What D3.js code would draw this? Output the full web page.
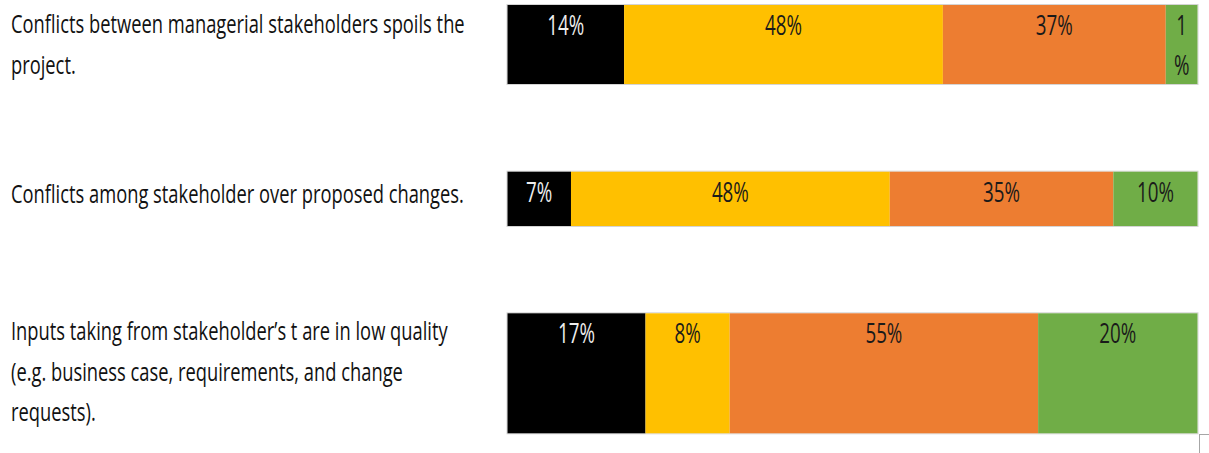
<!DOCTYPE html>
<html>
<head>
<meta charset="utf-8">
<script src="https://cdn.jsdelivr.net/npm/d3@7"></script>
<style>
  html, body { margin: 0; padding: 0; background: #ffffff; }
  svg { display: block; }
</style>
</head>
<body>
<svg id="chart" width="1209" height="453"></svg>
<script>
// ---------------- DATA ----------------
const categories = [
  "Conflicts between managerial stakeholders spoils the project.",
  "Conflicts among stakeholder over proposed changes.",
  "Inputs taking from stakeholder\u2019s t are in low quality (e.g. business case, requirements, and change requests)."
];
const seriesNames = ["Series 1", "Series 2", "Series 3", "Series 4"];
// bar segment lengths (share of the bar, as drawn)
const series1Values = [16.9, 9.2, 20.0];
const series2Values = [46.2, 46.2, 12.2];
const series3Values = [32.3, 32.4, 44.7];
const series4Values = [4.6, 12.2, 23.1];
// printed data labels (%)
const series1Labels = [14, 7, 17];
const series2Labels = [48, 48, 8];
const series3Labels = [37, 35, 55];
const series4Labels = [1, 10, 20];

// ---------------- STYLE / LAYOUT ----------------
const colors = ["#000000", "#FFC000", "#ED7D31", "#70AD47"];
const labelColors = ["#eeeeee", "#1a1a1a", "#1a1a1a", "#1a1a1a"];
const barLeft = 507.5, barRight = 1197.5;
const rowTop = [5, 171.7, 313.3];
const rowHeight = [79, 54.3, 120];
const catBaseline = [33, 203, 340];
const catLineGap = 40.5;
const catX = 11;
const catFont = 26, pctFont = 28;
const catTargetWidth = 453;   // width of the single-line 2nd category
const pctTargetWidth = 37;    // width of "14%"
const wrapWidth = 472;

const svg = d3.select("#chart");
const valuesBySeries = [series1Values, series2Values, series3Values, series4Values];
const labelsBySeries = [series1Labels, series2Labels, series3Labels, series4Labels];

const table = categories.map((c, i) => {
  const row = { category: c, index: i };
  seriesNames.forEach((s, k) => { row[s] = valuesBySeries[k][i]; });
  return row;
});
const stacked = d3.stack().keys(seriesNames)(table);

const x = d3.scaleLinear().domain([0, 100]).range([barLeft, barRight]);

// measuring helper
const meas = svg.append("text").attr("visibility", "hidden");
function textWidth(str, size) {
  meas.attr("font-family", "'Open Sans', sans-serif").attr("font-size", size).text(str);
  return meas.node().getComputedTextLength();
}
const catScale = catTargetWidth / textWidth(categories[1], catFont);
const pctScale = pctTargetWidth / textWidth("14%", pctFont);

// bar outlines (faint border)
svg.append("g").selectAll("rect").data(table).join("rect")
  .attr("x", x(0) - 0.5)
  .attr("y", d => rowTop[d.index] - 0.5)
  .attr("width", x(100) - x(0) + 1)
  .attr("height", d => rowHeight[d.index] + 1)
  .attr("fill", "none")
  .attr("stroke", "#d4d4d4")
  .attr("stroke-width", 1);

// segments
const layers = svg.append("g").selectAll("g").data(stacked).join("g")
  .attr("fill", (d, k) => colors[k]);
layers.selectAll("rect").data(d => d).join("rect")
  .attr("x", d => x(d[0]))
  .attr("y", d => rowTop[d.data.index])
  .attr("width", d => x(d[1]) - x(d[0]))
  .attr("height", d => rowHeight[d.data.index]);

// data labels
const labelG = svg.append("g")
  .attr("font-family", "'Open Sans', sans-serif")
  .attr("font-size", pctFont);
stacked.forEach((layer, k) => {
  layer.forEach(d => {
    const i = d.data.index;
    const txt = labelsBySeries[k][i] + "%";
    const segW = x(d[1]) - x(d[0]);
    const cx = (x(d[0]) + x(d[1])) / 2;
    const w = textWidth(txt, pctFont) * pctScale;
    const lines = (w > segW - 8) ? txt.split("") : [txt];
    lines.forEach((ln, j) => {
      labelG.append("text")
        .attr("transform", `translate(${cx},${rowTop[i] + 30 + j * 40}) scale(${pctScale},1)`)
        .attr("text-anchor", "middle")
        .attr("fill", labelColors[k])
        .text(ln);
    });
  });
});

// category labels (word wrapped)
function wrap(str) {
  const words = str.split(" ");
  const lines = [];
  let cur = "";
  words.forEach(wd => {
    const test = cur ? cur + " " + wd : wd;
    if (textWidth(test, catFont) * catScale > wrapWidth && cur) {
      lines.push(cur); cur = wd;
    } else cur = test;
  });
  if (cur) lines.push(cur);
  return lines;
}
const catG = svg.append("g")
  .attr("font-family", "'Open Sans', sans-serif")
  .attr("font-size", catFont)
  .attr("fill", "#111111");
categories.forEach((c, i) => {
  wrap(c).forEach((ln, j) => {
    catG.append("text")
      .attr("transform", `translate(${catX},${catBaseline[i] + j * catLineGap}) scale(${catScale},1)`)
      .text(ln);
  });
});

meas.remove();

// small selection handle at the bottom-right corner
svg.append("rect")
  .attr("x", 1199.5).attr("y", 434.5)
  .attr("width", 12).attr("height", 20)
  .attr("fill", "#ffffff").attr("stroke", "#a6a6a6");
</script>
</body>
</html>
